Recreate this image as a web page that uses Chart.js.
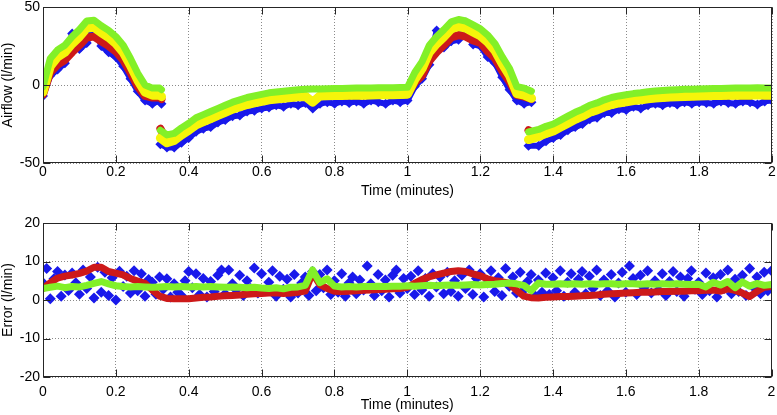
<!DOCTYPE html>
<html>
<head>
<meta charset="utf-8">
<script src="https://cdn.jsdelivr.net/npm/chart.js@4.4.1/dist/chart.umd.min.js"></script>
<style>
  html, body { margin: 0; padding: 0; background: #fff; }
  .panel { position: absolute; left: 0; width: 777px; }
  #flowPanel { top: 0; height: 207px; }
  #errorPanel { top: 207px; height: 208px; }
</style>
</head>
<body>
<div class="panel" id="flowPanel"><canvas id="flowChart"></canvas></div>
<div class="panel" id="errorPanel"><canvas id="errorChart"></canvas></div>
<script>
// ---- data ----
const xTicks = [0, 0.2, 0.4, 0.6, 0.8, 1, 1.2, 1.4, 1.6, 1.8, 2];
const flowTicks = [-50, 0, 50];
const errorTicks = [-20, -10, 0, 10, 20];

// airflow samples; the repeated time with null values breaks the trace at the two jumps
const flowTime = [
  0, 0.02, 0.04, 0.06, 0.08, 0.1, 0.12, 0.14, 0.16, 0.18, 0.2, 0.22, 0.24, 0.26, 0.28, 0.3, 0.32, 0.325,
  0.325,
  0.322, 0.34, 0.36, 0.38, 0.4, 0.42, 0.44, 0.46, 0.48, 0.5, 0.52, 0.54, 0.56, 0.58, 0.6, 0.62, 0.64, 0.66,
  0.68, 0.7, 0.72, 0.74, 0.76, 0.78, 0.8, 0.82, 0.84, 0.86, 0.88, 0.9, 0.92, 0.94, 0.96, 0.98, 1,
  1.02, 1.04, 1.06, 1.08, 1.1, 1.12, 1.14, 1.16, 1.18, 1.2, 1.22, 1.24, 1.26, 1.28, 1.3, 1.32, 1.34,
  1.34,
  1.332, 1.36, 1.38, 1.4, 1.42, 1.44, 1.46, 1.48, 1.5, 1.52, 1.54, 1.56, 1.58, 1.6, 1.62, 1.64, 1.66,
  1.68, 1.7, 1.72, 1.74, 1.76, 1.78, 1.8, 1.82, 1.84, 1.86, 1.88, 1.9, 1.92, 1.94, 1.96, 1.98, 2,
];
const flowGreen = [
  -1, 17, 22.5, 25.5, 31, 35.5, 41, 41.5, 38, 35, 31, 25.5, 17, 7.5, 0, -2, -2, -3,
  null,
  -29, -32, -31, -27.5, -24.5, -21, -19, -17, -15, -13, -11, -9.5, -8, -7, -6, -5, -4.5, -4,
  -3.5, -3, -2.8, -2.6, -2.5, -2.4, -2.3, -2.2, -2.1, -2, -2, -1.9, -1.8, -1.8, -1.7, -1.6, -1.5,
  8, 15, 25.5, 31, 35.5, 40.5, 42, 41, 38.5, 36, 32, 26.5, 18, 10.5, -1, -2, -4,
  null,
  -30, -28.5, -26.5, -25, -22.5, -20, -17.5, -15.5, -13, -11.5, -9.5, -8, -7, -6.3, -5.5, -5, -4.3,
  -3.8, -3.5, -3.2, -3, -2.8, -2.7, -2.6, -2.4, -2.3, -2.2, -2.1, -2, -2, -2, -1.8, -2, -2,
];
const flowYellow = [
  -4.5, 12, 18, 21, 26.5, 31, 36.5, 37, 33.5, 30.5, 26.5, 21, 12.5, 3, -4.5, -6.5, -6.5, -7.5,
  null,
  -34, -37, -35.5, -32, -29, -25.5, -23.5, -21.5, -19.5, -17.5, -15.5, -14, -12.5, -11.5, -10.5, -9.5, -9, -8.5,
  -8, -7.5, -7.3, -11, -7, -6.9, -6.8, -6.7, -6.6, -6.5, -6.5, -6.4, -6.3, -6.3, -6.2, -6.1, -6,
  3.5, 10.5, 21, 26.5, 31, 36, 37.5, 36.5, 34, 31.5, 27.5, 22, 13.5, 6, -5.5, -6.5, -8.5,
  null,
  -35, -33, -31, -29.5, -27, -24.5, -22, -20, -17.5, -16, -14, -12.5, -11.5, -10.8, -10, -9.5, -8.8,
  -8.3, -8, -7.7, -7.5, -7.3, -7.2, -7.1, -6.9, -6.8, -6.7, -6.6, -6.5, -6.5, -6.5, -6.3, -6.5, -6.5,
];
const flowRed = [
  -6, 8, 13, 16, 21, 25.5, 30.5, 31, 28, 25, 21.5, 16, 8, -1, -7, -8, -8, -9,
  null,
  -28, -36, -35.5, -32, -29, -25.5, -23.5, -21.5, -19.5, -17.5, -15.5, -14, -12.5, -11.5, -10.5, -9.5, -9, -8.5,
  -8, -7.5, -7.3, -11, -7, -6.9, -6.8, -6.7, -6.6, -6.5, -6.5, -6.4, -6.3, -6.3, -6.2, -6.1, -6,
  1.5, 6, 15.5, 21, 25.5, 30.5, 32, 31, 28.5, 27, 21.5, 17, 9, 2, -6.5, -7.5, -9,
  null,
  -29, -33, -31, -29.5, -27, -24.5, -22, -20, -17.5, -16, -14, -12.5, -11.5, -10.8, -10, -9.5, -8.8,
  -8.3, -8, -7.7, -7.5, -7.3, -7.2, -7.1, -6.9, -6.8, -6.7, -6.6, -6.5, -6.5, -6.5, -6.3, -6.5, -6.5,
];
const flowBlue = [
  -7, 6, 10, 14, 33, 23, 27, 39, 25, 21, 18, 12, 4, -4, -10, -12, -10, -12,
  null,
  -38, -40, -40, -37, -34, -30, -28, -27, -24, -22.5, -20, -19.5, -17, -16.5, -15, -14.5, -13, -14,
  -12, -13, -11.5, -15, -12, -11, -12, -10.5, -11.5, -10.5, -12, -10, -11, -12, -10, -11, -10,
  -1, 4, 13, 35, 24, 28, 29, 40, 26, 25, 18, 14, 5, -3, -10, -12, -11,
  null,
  -39, -39, -36, -34, -32, -29, -27, -25, -22, -21, -18, -18, -15.5, -16, -14, -15, -13,
  -12, -13, -11.5, -12.5, -11, -12, -11, -11.5, -12, -10.5, -11.5, -12, -10.5, -11, -12.5, -10.5, -10,
];

// error samples
const errTime = [
  0, 0.02, 0.04, 0.06, 0.08, 0.1, 0.12, 0.14, 0.16, 0.18, 0.2, 0.22, 0.24, 0.26, 0.28, 0.3, 0.32, 0.34,
  0.36, 0.38, 0.4, 0.42, 0.44, 0.46, 0.48, 0.5, 0.52, 0.54, 0.56, 0.58, 0.6, 0.62, 0.64, 0.66, 0.68, 0.7,
  0.72, 0.74, 0.76, 0.78, 0.8, 0.82, 0.84, 0.86, 0.88, 0.9, 0.92, 0.94, 0.96, 0.98, 1, 1.02, 1.04, 1.06,
  1.08, 1.1, 1.12, 1.14, 1.16, 1.18, 1.2, 1.22, 1.24, 1.26, 1.28, 1.3, 1.32, 1.34, 1.36, 1.38, 1.4, 1.42,
  1.44, 1.46, 1.48, 1.5, 1.52, 1.54, 1.56, 1.58, 1.6, 1.62, 1.64, 1.66, 1.68, 1.7, 1.72, 1.74, 1.76, 1.78,
  1.8, 1.82, 1.84, 1.86, 1.88, 1.9, 1.92, 1.94, 1.96, 1.98, 2,
];
const errGreen = [
  3, 3.3, 3.6, 3.2, 3.5, 3.4, 3.8, 4.3, 4.8, 4.2, 3.7, 3.5, 3.4, 3.5, 3.4, 3.3, 3.4, 3.5, 3.4, 3.5,
  3.4, 3.5, 3.4, 3.5, 3.4, 3.3, 3.4, 3.3, 3.2, 3.3, 3.1, 3, 3.2, 2.9, 3.3, 3.4, 3.8, 7.8, 4.5, 5.5,
  3.6, 3.4, 3.5, 3.4, 3.5, 3.5, 3.6, 3.5, 3.6, 3.6, 3.7, 3.6, 3.7, 3.8, 3.7, 3.8, 3.9, 3.8, 3.9, 4,
  3.9, 4, 4.1, 4.3, 4.4, 4.2, 3.8, 2.4, 4.4, 4.1, 4.1, 4.2, 4.1, 4.2, 4.1, 4.2, 4.1, 4.2, 4.2, 4.1,
  4.2, 4.2, 4.1, 4.2, 4.1, 4.2, 4.1, 4.2, 4.1, 4, 4.1, 3.4, 4.6, 3.9, 4.8, 3.2, 4.7, 3.6, 4.3, 3.8, 4,
];
const errRed = [
  3, 4.5, 5.7, 6.2, 6.5, 6.9, 7.5, 8.5, 8.5, 7.4, 7, 6.5, 5.6, 4.9, 4.3, 2.6, 1, 0.4, 0.3, 0.3,
  0.3, 0.5, 0.7, 0.8, 1, 1.1, 1.2, 1.3, 1.5, 1.6, 1.7, 1.8, 1.9, 1.7, 1.8, 2, 2.3, 7, 4, 3,
  2.3, 2.2, 2.3, 2.4, 2.5, 2.6, 2.7, 2.8, 2.9, 3, 3.3, 4.3, 5.3, 6, 6.5, 7, 7.4, 7.6, 7.4, 6.8,
  6.3, 5.5, 5, 4.8, 4.3, 2.5, 1, 0.6, 0.5, 0.7, 0.8, 0.9, 0.9, 1, 1.1, 1.2, 1.3, 1.5, 1.6, 1.7,
  1.8, 1.9, 2, 2, 2.1, 2.2, 2.2, 2.3, 2.3, 2.4, 2.4, 2.5, 2.6, 2.3, 2.9, 2.5, 1.8, 0.9, 2.2, 3.3, 3.5,
];
const blueTime = [
  0, 0.01, 0.02, 0.03, 0.04, 0.05, 0.06, 0.07, 0.08, 0.09, 0.1, 0.11, 0.12, 0.13, 0.14, 0.15, 0.16, 0.17, 0.18, 0.19,
  0.2, 0.21, 0.22, 0.23, 0.24, 0.25, 0.26, 0.27, 0.28, 0.29, 0.3, 0.31, 0.32, 0.33, 0.34, 0.35, 0.36, 0.37, 0.38, 0.39,
  0.4, 0.41, 0.42, 0.43, 0.44, 0.45, 0.46, 0.47, 0.48, 0.49, 0.5, 0.51, 0.52, 0.53, 0.54, 0.55, 0.56, 0.57, 0.58, 0.59,
  0.6, 0.61, 0.62, 0.63, 0.64, 0.65, 0.66, 0.67, 0.68, 0.69, 0.7, 0.71, 0.72, 0.73, 0.74, 0.75, 0.76, 0.77, 0.78, 0.79,
  0.8, 0.81, 0.82, 0.83, 0.84, 0.85, 0.86, 0.87, 0.88, 0.89, 0.9, 0.91, 0.92, 0.93, 0.94, 0.95, 0.96, 0.97, 0.98, 0.99,
  1, 1.01, 1.02, 1.03, 1.04, 1.05, 1.06, 1.07, 1.08, 1.09, 1.1, 1.11, 1.12, 1.13, 1.14, 1.15, 1.16, 1.17, 1.18, 1.19,
  1.2, 1.21, 1.22, 1.23, 1.24, 1.25, 1.26, 1.27, 1.28, 1.29, 1.3, 1.31, 1.32, 1.33, 1.34, 1.35, 1.36, 1.37, 1.38, 1.39,
  1.4, 1.41, 1.42, 1.43, 1.44, 1.45, 1.46, 1.47, 1.48, 1.49, 1.5, 1.51, 1.52, 1.53, 1.54, 1.55, 1.56, 1.57, 1.58, 1.59,
  1.6, 1.61, 1.62, 1.63, 1.64, 1.65, 1.66, 1.67, 1.68, 1.69, 1.7, 1.71, 1.72, 1.73, 1.74, 1.75, 1.76, 1.77, 1.78, 1.79,
  1.8, 1.81, 1.82, 1.83, 1.84, 1.85, 1.86, 1.87, 1.88, 1.89, 1.9, 1.91, 1.92, 1.93, 1.94, 1.95, 1.96, 1.97, 1.98, 1.99,
  2,
];
const errBlue = [
  4.5, 8.2, 0.3, 5.5, 7.4, 1, 6.5, 2.5, 7, 4.5, 1.5, 7.8, 3, 6, 0.5, 8.5, 2, 7.2, 1.2, 5.8,
  0, 7.5, 3.5, 6.2, 1.8, 7.6, 2.4, 6.8, 1, 5.3, 4.6, 1.5, 6, 2.8, 5.5, 0.8, 4.2, 2, 1.2, 5,
  7.4, 3.2, 6.8, 1.4, 5.6, 0.8, 4.8, 2.2, 6.4, 7.8, 1.6, 7.8, 4.2, 2.6, 6.4, 1.2, 5, 3, 8.3, 1.8,
  6.8, 2.4, 4.6, 7.6, 1, 6.2, 2.8, 5.4, 0.8, 6.6, 1.8, 4.4, 6, 1.2, 7.4, 2.4, 6.6, 3.2, 7.8, 1.4,
  5, 2, 6.8, 1, 4.4, 6, 1.6, 5.2, 2.6, 8.8, 4.2, 1.2, 6.6, 2.4, 5.2, 0.8, 6.4, 7.8, 1.8, 5.6,
  3, 6.2, 1.4, 7.6, 2.6, 5.6, 1, 6.8, 3.4, 6, 1.6, 7.2, 2.2, 5, 1, 6.4, 3, 7.8, 1.4, 5.6,
  6.8, 0.8, 4.4, 7.6, 2.2, 5.8, 1.2, 8.2, 3.6, 6, 1.8, 7.2, 2.6, 4.8, 6.6, 1.2, 5.2, 2, 7, 1.4,
  5.8, 2.4, 7.6, 1, 4.6, 6.8, 2, 5.4, 7.4, 1.6, 6.2, 3, 7.8, 1.2, 5.2, 2.4, 6.6, 0.8, 4.4, 7.2,
  2, 8.8, 5.6, 1.4, 6.4, 3.2, 7.6, 1.8, 5, 2.6, 6.8, 1.2, 4.8, 7.4, 2.2, 6, 1, 5.6, 7.6, 2.8,
  4.6, 1.4, 7, 2.4, 5.8, 0.8, 6.6, 3, 7.8, 1.6, 5.4, 2.2, 6.4, 1.2, 8.2, 3.4, 6, 1.6, 7.2, 2.4,
  7.6,
];

const BLUE = 'rgb(25,25,235)';
const RED = 'rgb(205,25,25)';
const YELLOW = 'rgb(245,245,10)';
const GREEN = 'rgb(130,240,40)';
const FONT = { family: "'Liberation Sans', Arial, sans-serif", size: 14 };

const toPoints = (xs, ys) => xs.map((x, i) => ({ x, y: ys[i] }));

const band = (label, xs, ys, color, width) => ({
  label,
  data: toPoints(xs, ys),
  showLine: true,
  borderColor: color,
  borderWidth: width,
  borderCapStyle: 'round',
  borderJoinStyle: 'round',
  pointRadius: 0,
  pointHoverRadius: 0,
  tension: 0,
  spanGaps: false,
});

const diamonds = (label, xs, ys, color, r, lineWidth = 0) => ({
  label,
  data: toPoints(xs, ys),
  showLine: lineWidth > 0,
  borderColor: color,
  borderWidth: lineWidth,
  borderJoinStyle: 'round',
  borderCapStyle: 'round',
  spanGaps: false,
  pointStyle: 'rectRot',
  pointRadius: r,
  pointHoverRadius: r,
  pointBackgroundColor: color,
  pointBorderWidth: 0,
});

// box round the plot with MATLAB style inward ticks
const frameTicks = {
  id: 'frameTicks',
  afterDatasetsDraw(chart) {
    const { ctx, chartArea: a } = chart;
    const { x, y } = chart.scales;
    const L = Math.round(a.left) + 0.5;
    const R = Math.round(a.right) - 0.5;
    const T = Math.round(a.top) + 0.5;
    const B = Math.round(a.bottom) - 0.5;
    ctx.save();
    ctx.strokeStyle = '#262626';
    ctx.lineWidth = 1;
    ctx.beginPath();
    x.ticks.forEach((t) => {
      const px = Math.round(x.getPixelForValue(t.value)) + 0.5;
      ctx.moveTo(px, B); ctx.lineTo(px, B - 7);
      ctx.moveTo(px, T); ctx.lineTo(px, T + 7);
    });
    y.ticks.forEach((t) => {
      const py = Math.round(y.getPixelForValue(t.value)) + 0.5;
      ctx.moveTo(L, py); ctx.lineTo(L + 7, py);
      ctx.moveTo(R, py); ctx.lineTo(R - 7, py);
    });
    ctx.stroke();
    ctx.strokeRect(L, T, R - L, B - T);
    ctx.restore();
  },
};

const makeOptions = (cfg) => ({
  responsive: true,
  maintainAspectRatio: false,
  animation: false,
  events: [],
  layout: { padding: { top: cfg.padTop, right: 4, left: 0, bottom: 0 } },
  plugins: { legend: { display: false }, tooltip: { enabled: false } },
  scales: {
    x: {
      type: 'linear',
      min: 0,
      max: 2,
      afterBuildTicks: (s) => { s.ticks = xTicks.map((v) => ({ value: v })); },
      afterFit: (s) => { s.height = cfg.xHeight; s.paddingLeft = 0; s.paddingRight = 0; },
      grid: { color: '#8a8a8a', drawTicks: false },
      border: { display: false, dash: [1, 2] },
      ticks: {
        color: '#000', font: FONT, padding: cfg.xTickPad, maxRotation: 0, autoSkip: false,
        callback: (v) => String(v),
      },
      title: {
        display: true, text: 'Time (minutes)', color: '#000', font: FONT,
        padding: { top: 0, bottom: cfg.xTitlePad },
      },
    },
    y: {
      type: 'linear',
      min: cfg.yTicks[0],
      max: cfg.yTicks[cfg.yTicks.length - 1],
      afterBuildTicks: (s) => { s.ticks = cfg.yTicks.map((v) => ({ value: v })); },
      afterFit: (s) => { s.width = 43; s.paddingTop = 0; s.paddingBottom = 0; },
      grid: { color: '#8a8a8a', drawTicks: false },
      border: { display: false, dash: [1, 2] },
      ticks: { color: '#000', font: FONT, padding: 3, callback: (v) => String(v) },
      title: { display: true, text: cfg.yTitle, color: '#000', font: FONT, padding: 0 },
    },
  },
});

new Chart(document.getElementById('flowChart'), {
  type: 'scatter',
  data: {
    datasets: [
      band('green', flowTime, flowGreen, GREEN, 7),
      band('yellow', flowTime, flowYellow, YELLOW, 9),
      band('red', flowTime, flowRed, RED, 8),
      diamonds('blue', flowTime, flowBlue, BLUE, 5, 6),
    ],
  },
  options: makeOptions({
    padTop: 7, xHeight: 44, xTickPad: 1, xTitlePad: 7,
    yTicks: flowTicks, yTitle: 'Airflow (l/min)',
  }),
  plugins: [frameTicks],
});

new Chart(document.getElementById('errorChart'), {
  type: 'scatter',
  data: {
    datasets: [
      band('green', errTime, errGreen, GREEN, 7),
      band('red', errTime, errRed, RED, 7),
      diamonds('blue', blueTime, errBlue, BLUE, 5.5),
    ],
  },
  options: makeOptions({
    padTop: 16, xHeight: 38, xTickPad: 7, xTitlePad: 1,
    yTicks: errorTicks, yTitle: 'Error (l/min)',
  }),
  plugins: [frameTicks],
});
</script>
</body>
</html>
